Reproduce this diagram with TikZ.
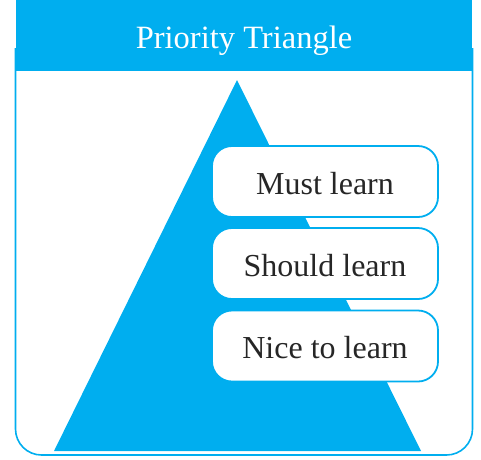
\documentclass[tikz,border=0pt]{standalone}
\usepackage{fontspec}
\setmainfont{Liberation Serif}
\definecolor{cyanb}{HTML}{00AEEF}
\begin{document}
\begin{tikzpicture}[x=1pt,y=-1pt,
  item/.style={draw=cyanb,line width=1.8pt,fill=white,rounded corners=20pt,minimum width=226pt,minimum height=71pt,inner sep=0pt,text height=28pt,text depth=3pt,font=\fontsize{32}{32}\selectfont,text=black!85},
  header/.style={fill=cyanb,minimum width=456pt,minimum height=71pt,inner sep=0pt,text height=28pt,text depth=3pt,text=white,font=\fontsize{32.5}{32}\selectfont}]
\useasboundingbox (0,0) rectangle (481,459);
\draw[cyanb,line width=1.6pt,rounded corners=26pt] (15.5,48) -- (15.5,455) -- (472.5,455) -- (472.5,48);
\fill[cyanb] (237,80) -- (421,451) -- (54,451) -- cycle;
\node[header] (title) at (244,35.5) {Priority Triangle};
\node[item] (must) at (325,181.5) {Must learn};
\node[item] (should) at (325,263.5) {Should learn};
\node[item] (nice) at (325,346) {Nice to learn};
\end{tikzpicture}
\end{document}
